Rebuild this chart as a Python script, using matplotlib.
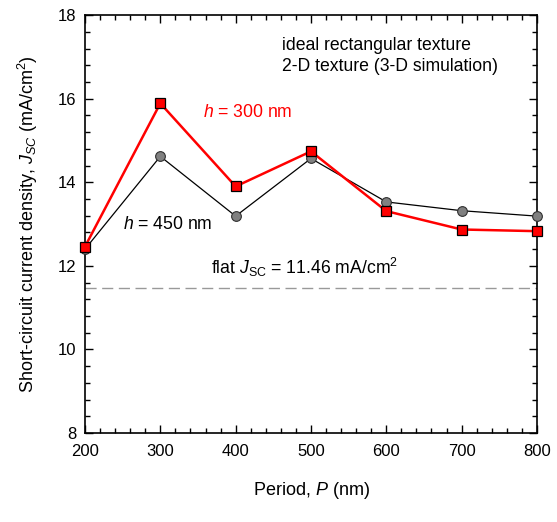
import matplotlib.pyplot as plt
from matplotlib.ticker import MultipleLocator

plt.rcParams['font.family'] = ['Liberation Sans', 'DejaVu Sans']
plt.rcParams['mathtext.fontset'] = 'custom'
plt.rcParams['mathtext.rm'] = 'Liberation Sans'
plt.rcParams['mathtext.it'] = 'Liberation Sans:italic'

### data
period = [200, 300, 400, 500, 600, 700, 800]
jsc_h300 = [12.46, 15.89, 13.90, 14.74, 13.31, 12.87, 12.83]
jsc_h450 = [12.40, 14.62, 13.19, 14.57, 13.53, 13.32, 13.19]
jsc_flat = 11.46

fig = plt.figure(figsize=(5.57, 5.22), dpi=100)
ax = fig.add_axes([0.1526, 0.1705, 0.8114, 0.8005])

ax.axhline(jsc_flat, color='#999999', lw=1.0, dashes=(8, 4), zorder=1)
ax.plot(period, jsc_h450, '-o', color='black', lw=0.9, mfc='#808080', mec='#303030',
        mew=0.8, ms=7, zorder=3, clip_on=False)
ax.plot(period, jsc_h300, '-s', color='#ff0000', lw=1.8, mfc='#ff0000', mec='black',
        mew=0.9, ms=7.5, zorder=4, clip_on=False)

ax.set_xlim(200, 800)
ax.set_ylim(8, 18)
ax.xaxis.set_major_locator(MultipleLocator(100))
ax.xaxis.set_minor_locator(MultipleLocator(20))
ax.yaxis.set_major_locator(MultipleLocator(2))
ax.yaxis.set_minor_locator(MultipleLocator(0.4))
ax.tick_params(which='both', direction='in', top=True, right=True, labelsize=12)
ax.tick_params(which='major', length=6, width=1)
ax.tick_params(which='minor', length=3.5, width=1)
ax.tick_params(axis='x', which='major', pad=8)
ax.tick_params(axis='y', which='major', pad=6)
for s in ax.spines.values():
    s.set_linewidth(1.2)

ax.set_xlabel('Period, $P$ (nm)', fontsize=13, labelpad=15)
ax.set_ylabel('Short-circuit current density, $J_{SC}$ (mA/cm$^2$)', fontsize=13, labelpad=13)

ax.text(461, 17.28, 'ideal rectangular texture', fontsize=12.7, va='center')
ax.text(461, 16.78, '2-D texture (3-D simulation)', fontsize=12.7, va='center')
ax.text(356, 15.66, '$h$ = 300 nm', fontsize=12.7, color='#ff0000', va='center')
ax.text(250, 12.98, '$h$ = 450 nm', fontsize=12.7, color='black', va='center')
ax.text(367, 11.95, 'flat $J_{\\mathrm{SC}}$ = 11.46 mA/cm$^2$', fontsize=12.7, va='center')

fig.savefig('out.png', dpi=100)
